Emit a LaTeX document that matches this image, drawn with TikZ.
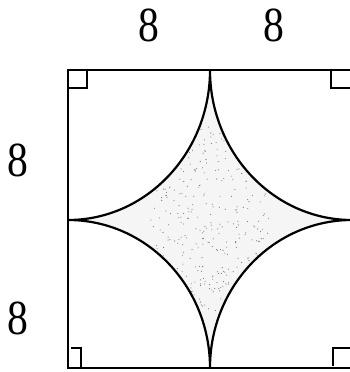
\documentclass[tikz,border=0pt]{standalone}
\usepackage{fontspec}
\setmainfont{Liberation Serif}
\usetikzlibrary{calc}
\begin{document}
\begin{tikzpicture}[x=1pt,y=1pt,
  edge/.style={line width=1.4pt},
  curve/.style={line width=2.2pt},
  rmark/.style={line width=1.3pt},
  lab/.style={font=\fontsize{49}{49}\selectfont, inner sep=0pt, xscale=0.85}]
\useasboundingbox (0,0) rectangle (350,372);
\coordinate (TL) at (68,302);
\coordinate (TR) at (352,302);
\coordinate (BL) at (68,4);
\coordinate (BR) at (352,4);
\coordinate (T) at (210,302);
\coordinate (B) at (210,4);
\coordinate (L) at (68,152);
\coordinate (R) at (352,152);
\def\starpath{(T) arc[start angle=0,end angle=-90,x radius=142pt,y radius=150pt]
  arc[start angle=90,end angle=0,x radius=142pt,y radius=148pt]
  arc[start angle=180,end angle=90,x radius=142pt,y radius=148pt]
  arc[start angle=270,end angle=180,x radius=142pt,y radius=150pt] -- cycle}
% shading
\fill[black!4] \starpath;
\begin{scope}
  \clip \starpath;
  \pgfmathsetseed{7}
  \foreach \i in {1,...,420}{
    \pgfmathsetmacro\px{150+120*rnd}
    \pgfmathsetmacro\py{60+185*rnd}
    \fill[black!55] (\px,\py) circle (0.55pt);
  }
\end{scope}
\draw[curve] \starpath;
% square
\draw[edge] (BL) -- (TL) -- (TR) -- (BR) -- cycle;
% right-angle marks
\draw[rmark] ($(TL)+(0,-18)$) -- ++(19,0) -- ++(0,18);
\draw[rmark] ($(TR)+(-21,0)$) -- ++(0,-18) -- ++(21,0);
\draw[rmark] ($(BL)+(3,20)$) -- ++(10,0) -- ++(0,-20);
\draw[rmark] ($(BR)+(0,20)$) -- ++(-19,0) -- ++(0,-18);
% labels
\node[lab] (t1) at (149,347) {8};
\node[lab] (t2) at (274,347) {8};
\node[lab] (l1) at (18,212) {8};
\node[lab] (l2) at (18,54) {8};
\end{tikzpicture}
\end{document}
